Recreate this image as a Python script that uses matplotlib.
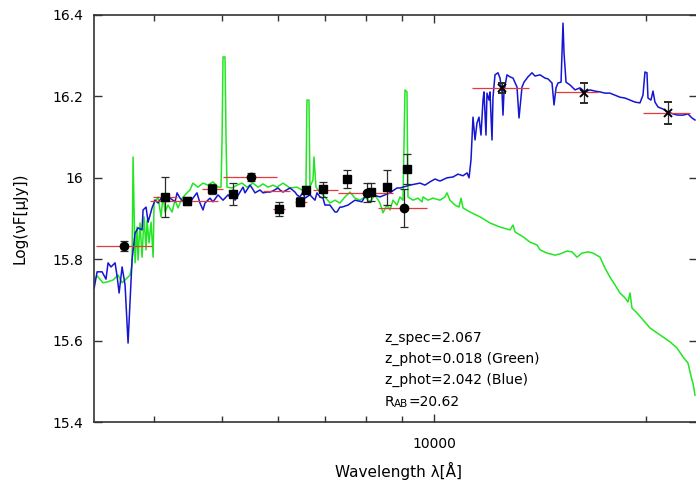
import numpy as np
import matplotlib
matplotlib.use("Agg")
import matplotlib.pyplot as plt
from matplotlib.ticker import FuncFormatter, NullFormatter, MultipleLocator

# best-fit templates (wavelength in Angstrom, log nuF)
blue_wl = np.array([
    3290, 3322, 3376, 3420, 3443, 3477, 3523, 3546, 3570, 3605,
    3640, 3676, 3724, 3761, 3798, 3848, 3861, 3899, 3925, 3976,
    4016, 4055, 4108, 4148, 4217, 4287, 4315, 4357, 4386, 4429,
    4458, 4500, 4545, 4605, 4651, 4697, 4728, 4805, 4853, 4934,
    5015, 5098, 5131, 5182, 5216, 5301, 5354, 5389, 5478, 5514,
    5568, 5660, 5716, 5791, 5848, 5906, 6003, 6042, 6102, 6243,
    6346, 6388, 6450, 6514, 6557, 6665, 6775, 6820, 6887, 6955,
    7000, 7115, 7233, 7281, 7352, 7400, 7549, 7722, 7901, 8031,
    8190, 8380, 8518, 8659, 8859, 8947, 9035, 9245, 9553, 9710,
    9870, 10033, 10198, 10434, 10641, 10817, 10995, 11142, 11215, 11287,
    11361, 11436, 11511, 11586, 11662, 11739, 11777, 11854, 11893, 11972,
    12011, 12090, 12129, 12209, 12329, 12410, 12491, 12532, 12573, 12697,
    12823, 12950, 13120, 13206, 13336, 13424, 13600, 13780, 13916, 14146,
    14378, 14520, 14712, 14809, 14906, 15004, 15152, 15201, 15251, 15301,
    15402, 15605, 15862, 16124, 16390, 16660, 16934, 17214, 17497, 17783,
    18075, 18375, 18677, 18987, 19300, 19617, 19810, 19940, 20071, 20137,
    20336, 20470, 20604, 20808, 21148, 21497, 21852, 22213, 22579, 22951,
    23255, 23484])
blue_f = np.array([
    15.729, 15.769, 15.769, 15.751, 15.791, 15.781, 15.791, 15.759, 15.717, 15.781,
    15.737, 15.594, 15.798, 15.864, 15.877, 15.872, 15.921, 15.928, 15.891, 15.926,
    15.945, 15.938, 15.953, 15.945, 15.950, 15.941, 15.963, 15.950, 15.945, 15.941,
    15.941, 15.938, 15.950, 15.963, 15.938, 15.921, 15.938, 15.950, 15.941, 15.958,
    15.945, 15.958, 15.953, 15.970, 15.945, 15.965, 15.977, 15.963, 15.982, 15.975,
    15.963, 15.970, 15.963, 15.965, 15.965, 15.968, 15.975, 15.970, 15.965, 15.975,
    15.965, 15.958, 15.953, 15.965, 15.950, 15.958, 15.945, 15.963, 15.953, 15.950,
    15.933, 15.933, 15.916, 15.916, 15.928, 15.928, 15.933, 15.945, 15.941, 15.963,
    15.958, 15.953, 15.958, 15.963, 15.975, 15.975, 15.977, 15.982, 15.987, 15.982,
    15.990, 15.997, 15.992, 16.000, 16.002, 16.009, 16.005, 16.012, 16.000, 16.044,
    16.149, 16.093, 16.135, 16.149, 16.105, 16.191, 16.211, 16.105, 16.208, 16.191,
    16.211, 16.093, 16.198, 16.253, 16.258, 16.245, 16.211, 16.154, 16.211, 16.253,
    16.248, 16.245, 16.223, 16.147, 16.223, 16.235, 16.248, 16.258, 16.250, 16.253,
    16.245, 16.243, 16.233, 16.179, 16.221, 16.233, 16.235, 16.307, 16.380, 16.307,
    16.235, 16.228, 16.216, 16.221, 16.211, 16.216, 16.213, 16.211, 16.208, 16.208,
    16.203, 16.198, 16.196, 16.191, 16.186, 16.184, 16.203, 16.260, 16.258, 16.196,
    16.191, 16.213, 16.186, 16.174, 16.169, 16.162, 16.157, 16.154, 16.154, 16.157,
    16.147, 16.142])

green_wl = np.array([
    3290, 3322, 3387, 3431, 3500, 3558, 3605, 3664, 3700, 3724,
    3737, 3761, 3786, 3798, 3823, 3848, 3873, 3899, 3912, 3937,
    3963, 3990, 4003, 4029, 4055, 4095, 4122, 4148, 4189, 4245,
    4287, 4329, 4386, 4458, 4500, 4545, 4620, 4697, 4774, 4853,
    4934, 4982, 4999, 5015, 5048, 5065, 5081, 5165, 5250, 5336,
    5425, 5532, 5623, 5716, 5810, 5906, 5984, 6102, 6243, 6388,
    6492, 6578, 6600, 6643, 6665, 6731, 6753, 6797, 6887, 7000,
    7115, 7233, 7352, 7474, 7597, 7722, 7849, 7978, 8110, 8244,
    8380, 8463, 8574, 8659, 8744, 8859, 8947, 9035, 9095, 9154,
    9184, 9336, 9490, 9616, 9647, 9806, 9967, 10198, 10366, 10434,
    10537, 10711, 10852, 10924, 10995, 11250, 11624, 12011, 12410, 12823,
    12950, 13035, 13380, 13690, 14007, 14146, 14472, 14857, 15102, 15452,
    15707, 15966, 16230, 16552, 16824, 17214, 17497, 17783, 18075, 18375,
    18677, 18861, 18987, 19112, 19427, 19810, 20270, 20740, 21148, 21638,
    22140, 22579, 22951, 23255, 23331, 23484])
green_f = np.array([
    15.749, 15.759, 15.742, 15.744, 15.749, 15.761, 15.742, 15.754, 15.761, 15.786,
    16.051, 15.791, 15.879, 15.798, 15.889, 15.805, 15.904, 15.823, 15.896, 15.840,
    15.891, 15.805, 15.945, 15.945, 15.953, 15.904, 15.958, 15.916, 15.933, 15.916,
    15.945, 15.926, 15.950, 15.963, 15.970, 15.987, 15.977, 15.987, 15.982, 15.990,
    15.977, 15.977, 16.093, 16.297, 16.297, 16.093, 15.977, 15.975, 15.982, 15.987,
    15.977, 15.987, 15.977, 15.985, 15.977, 15.982, 15.977, 15.987, 15.975, 15.977,
    15.970, 15.975, 16.191, 16.191, 15.977, 15.995, 16.051, 15.977, 15.965, 15.953,
    15.938, 15.945, 15.938, 15.953, 15.965, 15.950, 15.945, 15.953, 15.941, 15.958,
    15.938, 15.914, 15.933, 15.921, 15.945, 15.933, 15.953, 15.945, 16.216, 16.211,
    15.953, 15.945, 15.950, 15.941, 15.953, 15.945, 15.950, 15.945, 15.953, 15.963,
    15.945, 15.933, 15.928, 15.950, 15.926, 15.916, 15.904, 15.889, 15.879, 15.872,
    15.884, 15.867, 15.855, 15.842, 15.835, 15.823, 15.815, 15.810, 15.813, 15.820,
    15.818, 15.805, 15.815, 15.818, 15.815, 15.805, 15.778, 15.756, 15.737, 15.717,
    15.705, 15.695, 15.717, 15.680, 15.668, 15.651, 15.631, 15.619, 15.609, 15.597,
    15.582, 15.560, 15.545, 15.503, 15.496, 15.466])

# model fluxes integrated over each filter
band_lo = [3311, 3990, 3950, 4681, 5015, 5906, 5716, 6346, 6731, 7305, 8326, 9035, 11324, 14857, 19810]
band_hi = [3976, 4315, 4934, 5015, 5984, 6142, 6243, 6600, 7305, 8744, 9774, 9245, 13646, 17100, 23103]
band_f = [15.832, 15.953, 15.943, 15.972, 16.002, 15.923, 15.968, 15.941, 15.970, 15.963,
          15.926, 16.022, 16.221, 16.211, 16.159]

# observed photometry
circ_wl = [3628, 5495, 8031, 9066]
circ_f = [15.832, 16.002, 15.963, 15.926]
circ_err = [0.013, 0.011, 0.023, 0.047]

sq_wl = [4148, 4458, 4838, 5182, 6023, 6450, 6578, 6955, 7524, 8137, 8574, 9155]
sq_f = [15.953, 15.943, 15.972, 15.960, 15.923, 15.941, 15.970, 15.972, 15.997, 15.965, 15.977, 16.022]
sq_err = [0.049, 0.010, 0.013, 0.026, 0.018, 0.011, 0.011, 0.018, 0.021, 0.023, 0.043, 0.037]

nir_wl = [12491, 16334, 21497]
nir_f = [16.221, 16.208, 16.159]
nir_err = [0.013, 0.024, 0.028]

info_lines = ["z_spec=2.067", "z_phot=0.018 (Green)", "z_phot=2.042 (Blue)"]
r_mag = "=20.62"

fig = plt.figure(figsize=(6.96, 4.83), dpi=100)
ax = fig.add_axes([93.5 / 696, 61 / 483, 603.5 / 696, 407 / 483])

ax.plot(green_wl, green_f, color="#22e622", lw=1.1, zorder=2)
ax.plot(blue_wl, blue_f, color="#1515d2", lw=1.1, zorder=2.1)
ax.hlines(band_f, band_lo, band_hi, colors="#e6393f", lw=0.9, zorder=3)

ebar = dict(ls="none", ecolor="#2a2a2a", elinewidth=0.9, capsize=3.2, capthick=0.9,
            color="black", zorder=4)
ax.errorbar(circ_wl, circ_f, yerr=circ_err, marker="o", ms=6, **ebar)
ax.errorbar(sq_wl, sq_f, yerr=sq_err, marker="s", ms=6, **ebar)
ax.errorbar(nir_wl, nir_f, yerr=nir_err, marker="x", ms=6, mew=1.4, **ebar)

ax.set_xscale("log")
ax.set_xlim(3283, 23640)
ax.set_ylim(15.4, 16.4)
ax.yaxis.set_major_locator(MultipleLocator(0.2))
ax.yaxis.set_major_formatter(FuncFormatter(lambda v, _: f"{round(v, 1):g}"))
ax.xaxis.set_major_formatter(FuncFormatter(lambda v, _: f"{v:g}"))
ax.xaxis.set_minor_formatter(NullFormatter())

for s in ax.spines.values():
    s.set_color("#333333")
    s.set_linewidth(1.2)
ax.tick_params(which="both", direction="in", top=True, right=True,
               color="#333333", width=1, labelsize=10)
ax.tick_params(which="major", length=6)
ax.tick_params(which="minor", length=4)
ax.tick_params(axis="y", pad=7.5)
ax.tick_params(axis="x", pad=11)

ax.set_xlabel("Wavelength λ[Å]", fontsize=11)
ax.set_ylabel("Log(νF[μJy])", fontsize=11)
ax.xaxis.set_label_coords(0.506, -0.098)
ax.yaxis.set_label_coords(-0.110, 0.5)

ys = [0.2064, 0.1548, 0.1032]
for y, s in zip(ys, info_lines):
    ax.text(0.4826, y, s, transform=ax.transAxes, fontsize=10, va="center")
t_r = ax.text(0.4826, 0.0491, "R", transform=ax.transAxes, fontsize=10, va="center")
t_ab = ax.annotate("AB", xy=(1, 0), xycoords=t_r, fontsize=7.5, va="bottom")
ax.annotate(r_mag, xy=(1, 0), xycoords=t_ab, fontsize=10, va="bottom")

fig.savefig("out.png", dpi=100)
